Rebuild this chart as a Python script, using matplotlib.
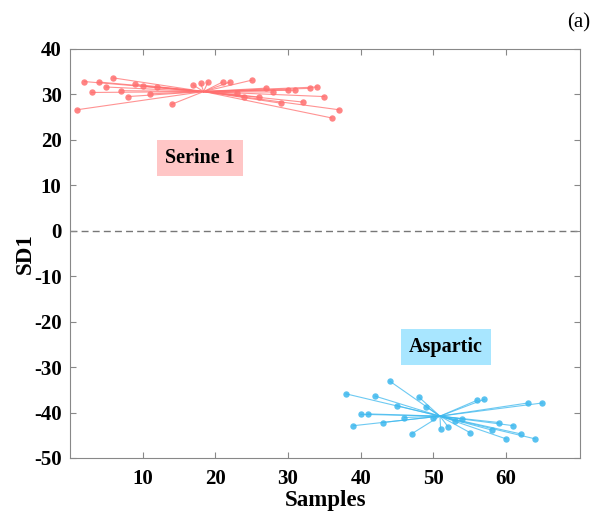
import numpy as np
import matplotlib.pyplot as plt

plt.rcParams["font.family"] = ["Liberation Serif", "DejaVu Serif"]
plt.rcParams["axes.unicode_minus"] = False

# Serine 1 samples
serine_x = [1, 2, 3, 4, 5, 6, 7, 8, 9, 10, 11, 12, 14, 17, 18, 19, 21, 22,
            23, 24, 25, 26, 27, 28, 29, 30, 31, 32, 33, 34, 35, 36, 37]
serine_y = [26.6, 32.8, 30.4, 32.7, 31.6, 33.6, 30.8, 29.5, 32.2, 31.8, 30.1,
            31.6, 27.8, 32.0, 32.4, 32.7, 32.7, 32.7, 30.25, 29.5, 33.1, 29.4,
            31.35, 30.5, 28.05, 31.0, 30.9, 28.3, 31.3, 31.6, 29.5, 24.8, 26.6]
serine_center = (18.4, 30.6)

# Aspartic samples
aspartic_x = list(range(38, 66))
aspartic_y = [-35.9, -42.9, -40.4, -40.3, -36.4, -42.2, -33.1, -38.5, -41.1,
              -44.7, -36.6, -38.7, -41.3, -43.7, -43.1, -41.8, -41.4, -44.4,
              -37.3, -37.1, -43.85, -42.2, -45.8, -42.9, -44.7, -37.9, -45.8,
              -37.9]
aspartic_center = (50.9, -40.8)

red = "#FF6F6F"
blue = "#3DB8EE"

fig = plt.figure(figsize=(5.97, 5.14), dpi=100)
ax = fig.add_axes([0.117, 0.109, 0.855, 0.796])


def star(xs, ys, center, color):
    for x, y in zip(xs, ys):
        ax.plot([center[0], x], [center[1], y], color=color, lw=0.8, alpha=0.75,
                zorder=2)
    ax.plot(xs, ys, "o", color=color, ms=4.6, mec="none", alpha=0.85, zorder=3)


star(serine_x, serine_y, serine_center, red)
star(aspartic_x, aspartic_y, aspartic_center, blue)

ax.axhline(0, color="#777777", ls=(0, (5, 3)), lw=1.0, zorder=1)

ax.text(17.9, 16, "Serine 1", fontsize=14.5, fontweight="bold", ha="center",
        va="center", bbox=dict(boxstyle="square,pad=0.4", fc="#FFC6C6", ec="none"))
ax.text(51.7, -25.6, "Aspartic", fontsize=14.5, fontweight="bold", ha="center",
        va="center", bbox=dict(boxstyle="square,pad=0.4", fc="#A8E6FF", ec="none"))

ax.set_xlim(0, 70.2)
ax.set_ylim(-50, 40)
ax.set_xticks(range(10, 61, 10))
ax.set_yticks(range(-50, 41, 10))
ax.tick_params(direction="in", length=4, width=0.8, color="#888888",
               top=True, right=True, labelsize=15)
ax.tick_params(axis="x", pad=8)
ax.tick_params(axis="y", pad=6)
for lab in ax.get_xticklabels() + ax.get_yticklabels():
    lab.set_fontweight("bold")
for s in ax.spines.values():
    s.set_color("#888888")
    s.set_linewidth(0.8)

ax.set_xlabel("Samples", fontsize=16.5, fontweight="bold", labelpad=1)
ax.set_ylabel("SD1", fontsize=16.5, fontweight="bold")
ax.yaxis.set_label_coords(-0.066, 0.5)

fig.text(0.988, 0.955, "(a)", fontsize=15, ha="right", va="center")

fig.savefig("out.png", dpi=100)
